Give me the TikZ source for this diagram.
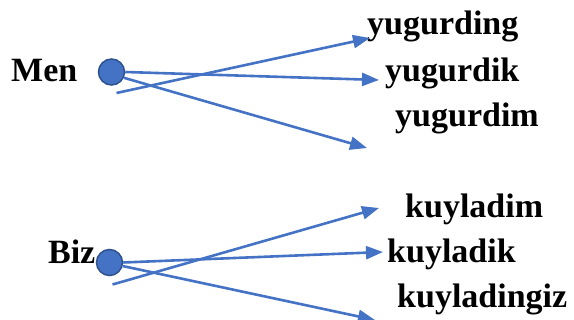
\documentclass[tikz,border=0pt]{standalone}
\usepackage{fontspec}
\setmainfont{Liberation Serif}
\usetikzlibrary{arrows.meta}
\definecolor{lineBlue}{HTML}{4472C4}
\definecolor{dotEdge}{HTML}{2F528F}

\begin{document}
\begin{tikzpicture}[x=1pt,y=-1pt]
    \tikzstyle{word} = [
      anchor=base west,
      inner sep=0pt,
      font=\fontsize{34}{37}\selectfont\bfseries,
    ]
    \tikzstyle{dot} = [
      circle,
      fill=lineBlue,
      draw=dotEdge,
      line width=1.5pt,
      minimum size=26pt,
      inner sep=0pt,
    ]
    \tikzstyle{arrow} = [
      line width=2.6pt,
      draw=lineBlue,
      -{Triangle[length=17pt,width=13pt]},
    ]

    \useasboundingbox (0,0) rectangle (574,320);

    \coordinate (menAnchor) at (111.5,72);
    \coordinate (bizAnchor) at (109.5,262.5);

    % men group
    {
      \node[word, anchor=base east] (menLabel) at ([xshift=-34pt, yshift=-10pt] menAnchor) {Men};
      \node[dot] (menDot) at (menAnchor) {};

      \node[word] (yugurding) at (367,35) {yugurding};
      \node[word] (yugurdik)  at (385,82) {yugurdik};
      \node[word] (yugurdim)  at (395,127) {yugurdim};

      \coordinate (menTail)      at ([xshift=5pt, yshift=-21pt] menAnchor);
      \coordinate (yugurdingTip) at ([xshift=3pt, yshift=-3pt] yugurding.base west);
      \coordinate (yugurdikTip)  at ([xshift=-6pt, yshift=2pt] yugurdik.base west);
      \coordinate (yugurdimTip)  at ([xshift=-28pt, yshift=-21pt] yugurdim.base west);

      \draw[arrow] (menTail) -- (yugurdingTip);
      \draw[arrow] (menDot.east) -- (yugurdikTip);
      \draw[arrow] (menDot.-25) -- (yugurdimTip);
    }

    % biz group
    {
      \node[word, anchor=base east] (bizLabel) at ([xshift=-14pt, yshift=-1.5pt] bizAnchor) {Biz};
      \node[dot] (bizDot) at (bizAnchor) {};

      \node[word] (kuyladim)    at (405,218) {kuyladim};
      \node[word] (kuyladik)    at (387,263) {kuyladik};
      \node[word] (kuyladingiz) at (397,308) {kuyladingiz};

      \coordinate (bizTail)        at ([xshift=3pt, yshift=-22pt] bizAnchor);
      \coordinate (kuyladimTip)    at ([xshift=-26pt, yshift=10pt] kuyladim.base west);
      \coordinate (kuyladikTip)    at ([xshift=-4pt, yshift=11pt] kuyladik.base west);
      \coordinate (kuyladingizTip) at ([xshift=-22pt, yshift=-12pt] kuyladingiz.base west);

      \draw[arrow] (bizTail) -- (kuyladimTip);
      \draw[arrow] (bizDot.east) -- (kuyladikTip);
      \draw[arrow] (bizDot.-15) -- (kuyladingizTip);
    }
\end{tikzpicture}
\end{document}
